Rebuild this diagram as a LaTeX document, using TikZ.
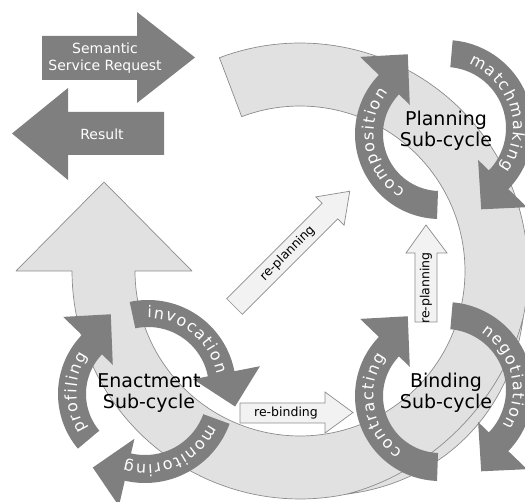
\documentclass[tikz,border=0pt]{standalone}
\usepackage{fontspec}
\setmainfont{DejaVu Sans}
\definecolor{arrowgray}{HTML}{7F7F7F}
\definecolor{bandgray}{HTML}{E1E1E1}
\definecolor{edgegray}{HTML}{8C8C8C}
\definecolor{palegray}{HTML}{F2F2F2}

% size of the words written along the circular arrows
\newcommand{\arcsize}{16}
\newcommand{\arcfmt}{\fontsize{16}{18}\selectfont}

% curved block arrow: centre x, centre y, inner r, outer r, tail angle, head base angle, tip angle
\newcommand{\cyclearrow}[7]{%
  \path[darkarrow] plot[domain=#5:#6,samples=80] ({#1+#4*cos(\x)},{#2+#4*sin(\x)})
    -- ({#1+(#4+26)*cos(#6)},{#2+(#4+26)*sin(#6)})
    -- ({#1+(#4+1)*cos(#7)},{#2+(#4+1)*sin(#7)})
    -- ({#1+(#3-15)*cos(#6)},{#2+(#3-15)*sin(#6)})
    -- plot[domain=#6:#5,samples=80] ({#1+#3*cos(\x)},{#2+#3*sin(\x)}) -- cycle;}

% spaced white letters running clockwise on a circle, tops outward:
% centre x, centre y, baseline radius, middle angle, letter gap,
% list of letter/advance pairs (advance in em)
\newcommand{\arcword}[6]{%
  \gdef\arctotal{0}%
  \foreach \ch/\cw in {#6}{%
    \pgfmathsetmacro\arctmp{\arctotal+\cw*\arcsize+#5}%
    \global\let\arctotal\arctmp}%
  \pgfmathsetmacro\arcstart{#4-(\arctotal-#5)/2*180/(pi*#3)}%
  \global\let\arcpos\arcstart
  \foreach \ch/\cw in {#6}{%
    \pgfmathsetmacro\arcmid{\arcpos+\cw*\arcsize/2*180/(pi*#3)}%
    \node[arcletter,rotate={-\arcmid-90}] at ({#1+#3*cos(\arcmid)},{#2+#3*sin(\arcmid)}) {\ch};
    \pgfmathsetmacro\arctmp{\arcpos+(\cw*\arcsize+#5)*180/(pi*#3)}%
    \global\let\arcpos\arctmp}%
}

\begin{document}
\begin{tikzpicture}[x=1pt,y=-1pt,
  band/.style={fill=bandgray,draw=edgegray,line width=0.7pt,line join=round},
  darkarrow/.style={fill=arrowgray},
  palearrow/.style={fill=palegray,draw=edgegray,line width=0.7pt,line join=miter},
  ioarrow/.style={fill=arrowgray},
  iolabel/.style={align=center,inner sep=0pt,text=white,font=\fontsize{14}{17}\selectfont},
  cyclelabel/.style={align=center,inner sep=0pt,font=\fontsize{19}{21.5}\selectfont},
  flowlabel/.style={inner sep=0pt,font=\fontsize{12.5}{14}\selectfont},
  arcletter/.style={inner sep=0pt,anchor=base,text=white,font=\arcfmt}]
\useasboundingbox (0,0) rectangle (525,502);

% request and result arrows
\path[ioarrow] (42,36) -- (137,36) -- (137,12) -- (195,57.5) -- (137,103) -- (137,80) -- (42,80) -- cycle;
\node[iolabel] (request) at (105,58) {Semantic\\Service Request};
\path[ioarrow] (164,112) -- (68,112) -- (68,88) -- (12,133.5) -- (68,180) -- (68,155) -- (164,155) -- cycle;
\node[iolabel] (result) at (102,134) {Result};

% the large life-cycle band ending in the upward arrow head
\path[band] plot[domain=249.3:540,samples=150] ({300+228*cos(\x)},{271+228*sin(\x)})
  -- (16,271) -- (104,182) -- (192,271)
  -- plot[domain=540:249.3,samples=150] ({300+165*cos(\x)},{271+165*sin(\x)}) -- cycle;
% overlapping sliver where the band widens below the binding sub-cycle
\path[band] plot[domain=12:78,samples=60] ({300+(228+7*sin((\x-12)*180/66))*cos(\x)},{271+(228+7*sin((\x-12)*180/66))*sin(\x)})
  -- plot[domain=78:12,samples=60] ({300+(228-4*sin((\x-12)*180/66))*cos(\x)},{271+(228-4*sin((\x-12)*180/66))*sin(\x)}) -- cycle;

% transitions between the sub-cycles
\begin{scope}[shift={(234.5,306.5)},rotate=45]
  \path[palearrow] (0,-11) -- (135,-11) -- (135,-20) -- (163,0) -- (135,20) -- (135,11) -- (0,11) -- cycle;
  \node[flowlabel,rotate=45] (replanA) at (75,0) {re-planning};
\end{scope}
\path[palearrow] (415,322) -- (415,253) -- (406,253) -- (426,225) -- (447,253) -- (437,253) -- (437,322) -- cycle;
\node[flowlabel,rotate=90] (replanB) at (426,288) {re-planning};
\path[palearrow] (240,403) -- (325,403) -- (325,392) -- (353,412.5) -- (325,433) -- (325,423) -- (240,423) -- cycle;
\node[flowlabel] (rebind) at (286,413) {re-binding};

% planning sub-cycle
\cyclearrow{440}{134}{57}{85}{92}{224}{248}
\cyclearrow{445}{128}{61}{88}{275}{404}{426}
\arcword{440}{134}{66.5}{170}{1.5}{c/.550,o/.612,m/.974,p/.635,o/.612,s/.521,i/.278,t/.392,i/.278,o/.612,n/.634}
\arcword{445}{128}{68}{343}{1.5}{m/.974,a/.613,t/.392,c/.550,h/.634,m/.974,a/.613,k/.579,i/.278,n/.634,g/.635}
\node[cyclelabel] (planning) at (446,131) {Planning\\Sub-cycle};

% binding sub-cycle
\cyclearrow{440}{396}{57}{85}{92}{224}{248}
\cyclearrow{445}{390}{61}{88}{275}{404}{426}
\arcword{440}{396}{66.5}{170}{1.5}{c/.550,o/.612,n/.634,t/.392,r/.411,a/.613,c/.550,t/.392,i/.278,n/.634,g/.635}
\arcword{445}{390}{68}{347}{1.5}{n/.634,e/.615,g/.635,o/.612,t/.392,i/.278,a/.613,t/.392,i/.278,o/.612,n/.634}
\node[cyclelabel] (binding) at (446,393) {Binding\\Sub-cycle};

% enactment sub-cycle
\cyclearrow{143}{394}{57}{85}{140}{224}{248}
\cyclearrow{148}{388}{61}{88}{258}{349}{372}
\cyclearrow{145}{393}{62}{90}{20}{103}{125}
\arcword{143}{394}{66.5}{181}{1.5}{p/.635,r/.411,o/.612,f/.352,i/.278,l/.278,i/.278,n/.634,g/.635}
\arcword{148}{388}{70}{309}{1.5}{i/.278,n/.634,v/.592,o/.612,c/.550,a/.613,t/.392,i/.278,o/.612,n/.634}
\arcword{145}{393}{71.5}{66}{1.5}{m/.974,o/.612,n/.634,i/.278,t/.392,o/.612,r/.411,i/.278,n/.634,g/.635}
\node[cyclelabel] (enactment) at (149,393) {Enactment\\Sub-cycle};
\end{tikzpicture}
\end{document}
